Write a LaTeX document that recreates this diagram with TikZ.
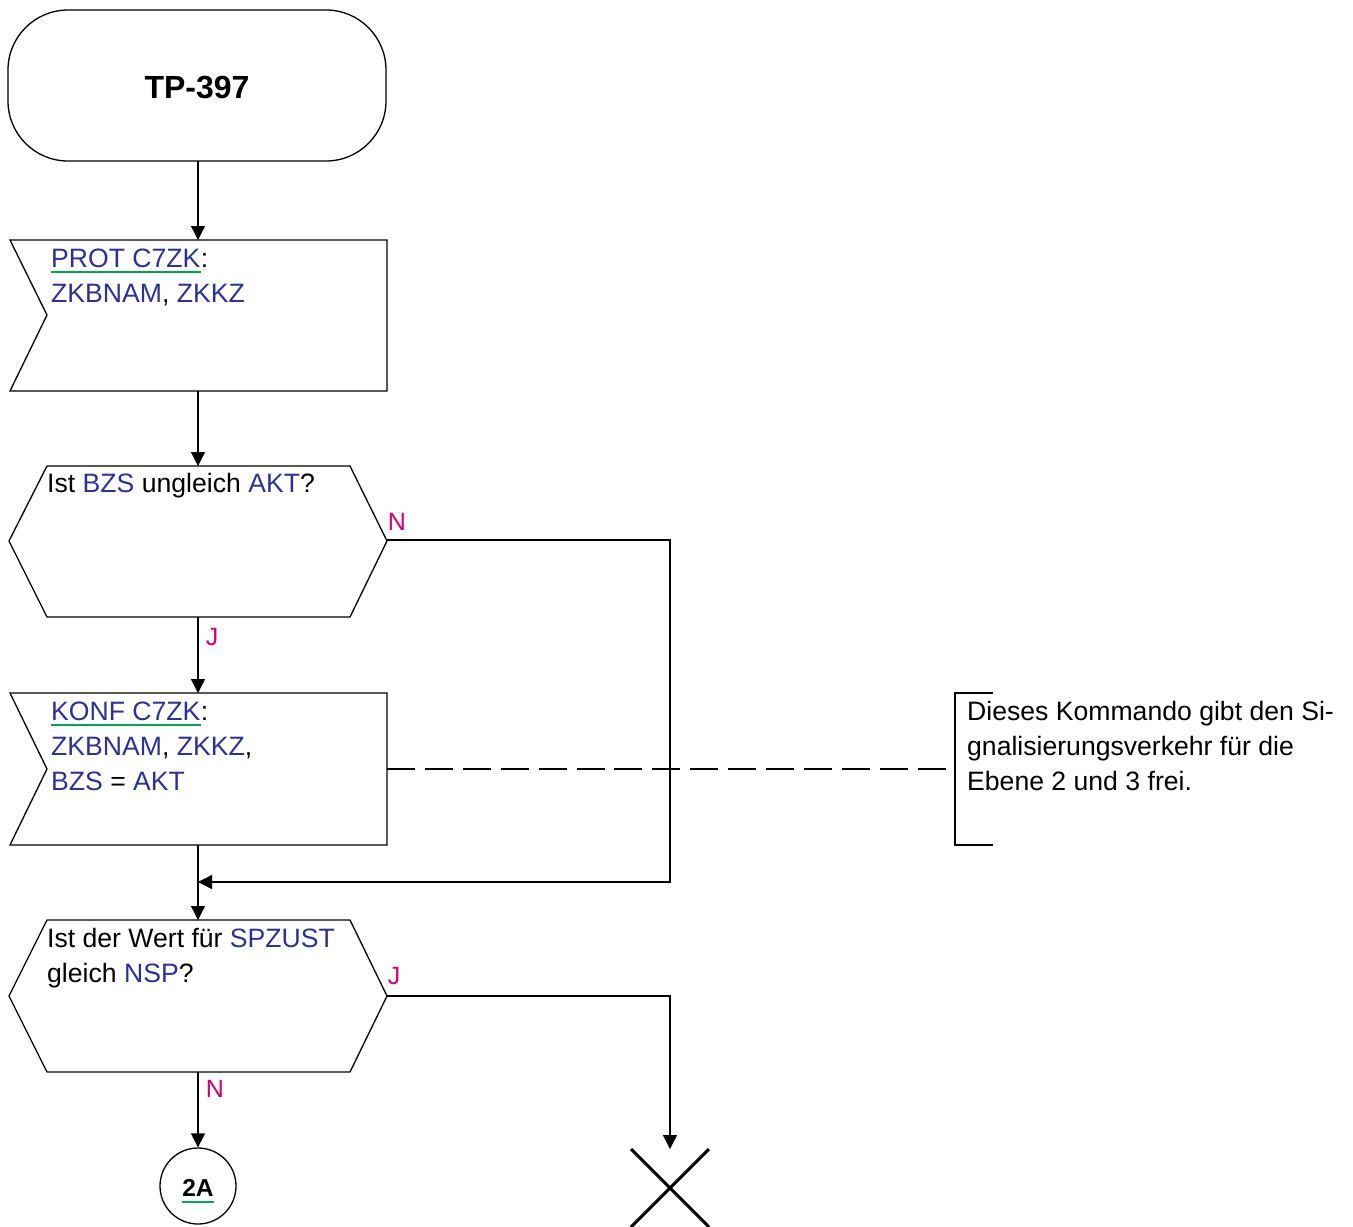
\documentclass[tikz,border=0pt]{standalone}
\usepackage{fontspec}
\setmainfont{Liberation Sans}
\usetikzlibrary{arrows.meta}
\definecolor{blu}{HTML}{2E3192}
\definecolor{mag}{HTML}{CC0077}
\definecolor{grn}{HTML}{00A651}
\tikzset{
  shape line/.style={draw=black, line width=1.3pt, line join=miter},
  flow/.style={draw=black, line width=1.3pt, -{Triangle[length=14pt,width=14pt]}},
  plain/.style={draw=black, line width=1.3pt},
  txt/.style={inner sep=0pt, font=\fontsize{26.6}{35}\selectfont, anchor=base west},
  key/.style={txt, text=blu},
  lbl/.style={inner sep=0pt, font=\fontsize{25}{28}\selectfont, text=mag},
  uline/.style={draw=grn, line width=2.4pt},
}
\begin{document}
\begin{tikzpicture}[x=1pt, y=-1pt]
\useasboundingbox (0,0) rectangle (1353,1227);

% start terminal
\draw[shape line, rounded corners=60pt] (8,10) rectangle (386,161);
\node[inner sep=0pt, font=\fontsize{32}{36}\selectfont\bfseries] (title) at (197,88) {TP-397};
\coordinate (termS) at (198,161);

% input PROT C7ZK
\draw[shape line] (10,240) -- (387,240) -- (387,391) -- (10,391) -- (47,315) -- cycle;
\coordinate (protN) at (198,240);
\coordinate (protS) at (198,391);
\node[key] (protkey) at (51,267) {PROT C7ZK};
\node[txt] (protcol) at (protkey.base east) {:};
\node[key] (protargs) at (51,302) {ZKBNAM{\color{black},} ZKKZ};
\draw[uline] ([yshift=-5pt]protkey.base west) -- ([yshift=-5pt]protkey.base east);

% decision BZS
\draw[shape line] (47,466) -- (350,466) -- (387,541) -- (350,617) -- (47,617) -- (9,541) -- cycle;
\coordinate (dec1N) at (198,466);
\coordinate (dec1S) at (198,617);
\coordinate (dec1E) at (387,540);
\node[txt] (dec1txt) at (47,492) {Ist {\color{blu}BZS} ungleich {\color{blu}AKT}?};
\node[lbl] (dec1no) at (397,522) {N};
\node[lbl] (dec1yes) at (212,637) {J};

% input KONF C7ZK
\draw[shape line] (10,693) -- (387,693) -- (387,845) -- (10,845) -- (47,769) -- cycle;
\coordinate (konfN) at (198,693);
\coordinate (konfS) at (198,845);
\coordinate (konfE) at (387,769);
\node[key] (konfkey) at (51,720) {KONF C7ZK};
\node[txt] (konfcol) at (konfkey.base east) {:};
\node[key] (konfargs) at (51,755) {ZKBNAM{\color{black},} ZKKZ{\color{black},}};
\node[key] (konfset) at (51,790) {BZS {\color{black}=} AKT};
\draw[uline] ([yshift=-5pt]konfkey.base west) -- ([yshift=-5pt]konfkey.base east);

% comment
\draw[plain] (993,693) -- (955,693) -- (955,845) -- (993,845);
\coordinate (noteW) at (955,769);
\node[txt] (note1) at (967,720) {Dieses Kommando gibt den Si-};
\node[txt] (note2) at (967,755) {gnalisierungsverkehr für die};
\node[txt] (note3) at (967,790) {Ebene 2 und 3 frei.};
\draw[draw=black, line width=1.3pt, dash pattern=on 28pt off 9.9pt] (konfE) -- (noteW);

% decision SPZUST
\draw[shape line] (47,920) -- (350,920) -- (387,996) -- (350,1072) -- (47,1072) -- (9,996) -- cycle;
\coordinate (dec2N) at (198,920);
\coordinate (dec2S) at (198,1072);
\coordinate (dec2E) at (387,996);
\node[txt] (dec2a) at (47,947) {Ist der Wert für {\color{blu}SPZUST}};
\node[txt] (dec2b) at (47,982) {gleich {\color{blu}NSP}?};
\node[lbl] (dec2yes) at (394,976) {J};
\node[lbl] (dec2no) at (215,1089) {N};

% connector 2A
\node[circle, draw=black, line width=1.3pt, minimum size=76pt, inner sep=0pt] (conn) at (198,1186) {};
\node[inner sep=0pt, font=\fontsize{24.5}{28}\selectfont\bfseries, anchor=base] (conntxt) at (198,1196) {2A};
\draw[uline, line width=2.4pt] ([yshift=-6pt]conntxt.base west) -- ([yshift=-6pt]conntxt.base east);

% end (cross)
\coordinate (endN) at (670,1149);
\draw[line width=3pt] (631,1149) -- (709,1227) (709,1149) -- (631,1227);

% merge point
\coordinate (merge) at (198,882);
\coordinate (loopNE) at (670,540);
\coordinate (loopSE) at (670,882);
\coordinate (yesE) at (670,996);

% connectors
\draw[flow] (termS) -- (protN);
\draw[flow] (protS) -- (dec1N);
\draw[flow] (dec1S) -- (konfN);
\draw[flow] (konfS) -- (dec2N);
\draw[flow] (dec1E) -- (loopNE) -- (loopSE) -- (merge);
\draw[flow] (dec2S) -- (conn.north);
\draw[flow] (dec2E) -- (yesE) -- (endN);
\end{tikzpicture}
\end{document}
